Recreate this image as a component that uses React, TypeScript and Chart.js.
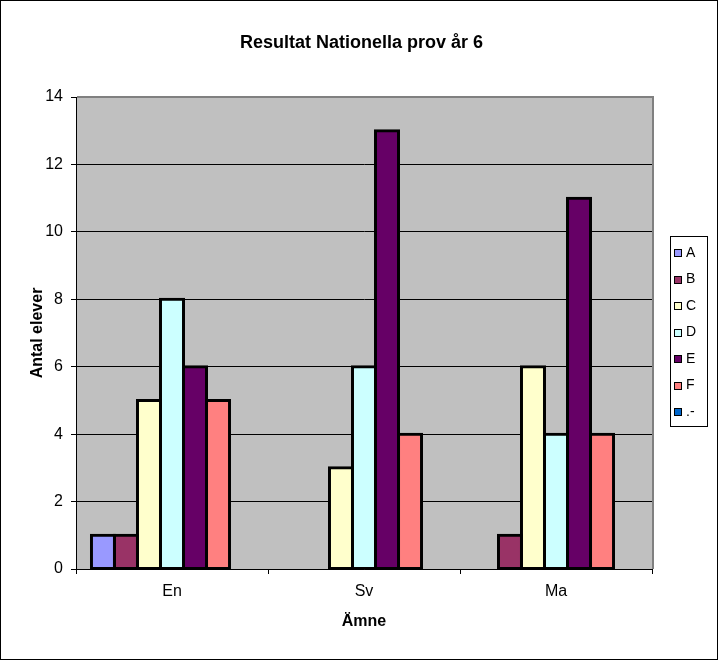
import React, { useEffect, useRef } from "react";
import { Chart, registerables } from "chart.js";

Chart.register(...registerables);

const categories = ["En", "Sv", "Ma"];
const seriesNames = ["A", "B", "C", "D", "E", "F", ".-"];
const seriesA = [1, 0, 0];
const seriesB = [1, 0, 1];
const seriesC = [5, 3, 6];
const seriesD = [8, 6, 4];
const seriesE = [6, 13, 11];
const seriesF = [5, 4, 4];
const seriesDash = [0, 0, 0];
const seriesColors = ["#9999FF", "#993366", "#FFFFCC", "#CCFFFF", "#660066", "#FF8080", "#0066CC"];
const chartTitle = "Resultat Nationella prov år 6";
const yTitle = "Antal elever";
const xTitle = "Ämne";

const FONT = "'Liberation Sans', Arial, sans-serif";

const bgPlugin = {
  id: "bgPlugin",
  beforeDraw(chart: any) {
    const { ctx, chartArea, width, height } = chart;
    ctx.save();
    ctx.fillStyle = "#FFFFFF";
    ctx.fillRect(0, 0, width, height);
    ctx.fillStyle = "#C0C0C0";
    ctx.fillRect(chartArea.left, chartArea.top, chartArea.right - chartArea.left, chartArea.bottom - chartArea.top);
    ctx.restore();
  },
  beforeDatasetsDraw(chart: any) {
    const { ctx, chartArea } = chart;
    ctx.save();
    ctx.fillStyle = "#808080";
    ctx.fillRect(chartArea.left + 1, chartArea.top - 1, chartArea.right - chartArea.left + 1, 2);
    ctx.fillRect(chartArea.right, chartArea.top - 1, 2, chartArea.bottom - chartArea.top + 1);
    ctx.restore();
  },
  afterDraw(chart: any) {
    const { ctx, width, height } = chart;
    ctx.save();
    ctx.strokeStyle = "#000000";
    ctx.lineWidth = 1;
    ctx.strokeRect(0.5, 0.5, width - 1, height - 1);
    // title
    ctx.fillStyle = "#000000";
    ctx.font = "bold 18px " + FONT;
    ctx.textAlign = "center";
    ctx.textBaseline = "middle";
    ctx.fillText(chartTitle, 361.5, 43);
    // legend
    const lx = 670, ly = 236, lw = 37, lh = 190;
    ctx.fillStyle = "#FFFFFF";
    ctx.fillRect(lx, ly, lw, lh);
    ctx.strokeRect(lx + 0.5, ly + 0.5, lw, lh);
    ctx.font = "14px " + FONT;
    ctx.textAlign = "left";
    ctx.textBaseline = "middle";
    chart.data.datasets.forEach((ds: any, i: number) => {
      const cy = 253 + i * 26.5;
      ctx.fillStyle = ds.backgroundColor;
      ctx.fillRect(674, Math.round(cy) - 3, 7, 7);
      ctx.strokeStyle = "#000000";
      ctx.lineWidth = 1;
      ctx.strokeRect(674.5, Math.round(cy) - 3.5, 7, 7);
      ctx.fillStyle = "#000000";
      ctx.fillText(ds.label, 686, cy);
    });
    ctx.restore();
  },
};

export default function App() {
  const ref = useRef<HTMLCanvasElement | null>(null);
  useEffect(() => {
    if (!ref.current) return;
    const allSeries = [seriesA, seriesB, seriesC, seriesD, seriesE, seriesF, seriesDash];
    const chart = new Chart(ref.current, {
      type: "bar",
      data: {
        labels: categories,
        datasets: allSeries.map((d, i) => ({
          label: seriesNames[i],
          data: d,
          backgroundColor: seriesColors[i],
          borderColor: "#000000",
          borderWidth: (c: any) => (c.raw === 0 ? 0 : 3),
          borderSkipped: false,
          inflateAmount: (c: any) => (c.raw === 0 ? 0 : 1.5),
          categoryPercentage: 0.839,
          barPercentage: 1,
        })),
      },
      options: {
        animation: false,
        responsive: false,
        devicePixelRatio: 1,
        layout: { padding: { left: 0, right: 66, top: 97, bottom: 0 } },
        plugins: {
          legend: { display: false },
          tooltip: { enabled: false },
          title: { display: false },
        },
        scales: {
          x: {
            offset: true,
            afterFit: (s: any) => {
              s.height = 91;
            },
            grid: {
              display: true,
              drawOnChartArea: false,
              drawTicks: true,
              tickLength: 5,
              color: "#000000",
              offset: true,
            },
            border: { display: true, color: "#000000", width: 1 },
            ticks: { color: "#000000", font: { family: FONT, size: 16 }, padding: 8 },
            title: {
              display: true,
              text: xTitle,
              color: "#000000",
              font: { family: FONT, size: 16, weight: "bold" },
              padding: { top: 0, bottom: 28.4 },
            },
          },
          y: {
            min: 0,
            max: 14,
            afterFit: (s: any) => {
              s.width = 76;
            },
            ticks: { stepSize: 2, color: "#000000", font: { family: FONT, size: 16 }, padding: 8 },
            grid: { color: "#000000", tickLength: 5, drawTicks: true },
            border: { display: true, color: "#000000", width: 1 },
            title: {
              display: true,
              text: yTitle,
              color: "#000000",
              font: { family: FONT, size: 16, weight: "bold" },
              padding: { top: 28, bottom: 0 },
            },
          },
        },
      },
      plugins: [bgPlugin],
    } as any);
    return () => chart.destroy();
  }, []);
  return (
    <div style={{ position: "absolute", left: 0, top: 0, width: 718, height: 660 }}>
      <canvas ref={ref} width={718} height={660} style={{ width: 718, height: 660, display: "block" }} />
    </div>
  );
}
